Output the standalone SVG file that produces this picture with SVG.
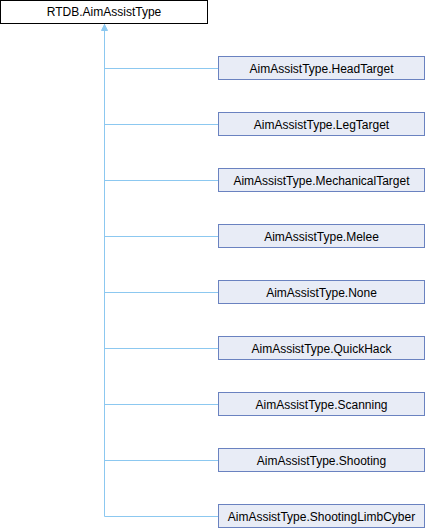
<svg xmlns="http://www.w3.org/2000/svg" width="426" height="528" viewBox="0 0 426 528">
<defs>
<marker id="arr" viewBox="0 0 8 8" refX="4" refY="0" markerWidth="8" markerHeight="8" markerUnits="userSpaceOnUse" orient="auto">
<path d="M4,0 L7,6 L1,6 Z" fill="#8cc8f0" stroke="#8cc8f0" stroke-width="1"/>
</marker>
</defs>
<style>
.box{fill:#e8ecf6;stroke:#6a82c0;stroke-width:1}
.root{fill:#ffffff;stroke:#000000;stroke-width:1}
.lbl{font-family:"Liberation Sans",Arial,sans-serif;font-size:12px;text-anchor:middle;fill:#000000}
.edge{fill:none;stroke:#8cc8f0;stroke-width:1}
</style>
<rect width="426" height="528" fill="#ffffff"/>
<g id="connectors">
<path class="edge" d="M104.5,516.5 V24"/>
<path d="M104.5,24.5 L107.5,30.5 L101.5,30.5 Z" fill="#8cc8f0" stroke="#8cc8f0" stroke-width="1"/>
<path class="edge" d="M104.5,68.5 H218.5"/>
<path class="edge" d="M104.5,124.5 H218.5"/>
<path class="edge" d="M104.5,180.5 H218.5"/>
<path class="edge" d="M104.5,236.5 H218.5"/>
<path class="edge" d="M104.5,292.5 H218.5"/>
<path class="edge" d="M104.5,348.5 H218.5"/>
<path class="edge" d="M104.5,404.5 H218.5"/>
<path class="edge" d="M104.5,460.5 H218.5"/>
<path class="edge" d="M104.5,516.5 H218.5"/>
</g>
<g id="root"><rect class="root" x="0.5" y="0.5" width="207" height="23"/><text class="lbl" x="104" y="16">RTDB.AimAssistType</text></g>
<g id="n1"><rect class="box" x="218.5" y="56.5" width="206" height="23"/><text class="lbl" x="321.5" y="72.5">AimAssistType.HeadTarget</text></g>
<g id="n2"><rect class="box" x="218.5" y="112.5" width="206" height="23"/><text class="lbl" x="321.5" y="128.5">AimAssistType.LegTarget</text></g>
<g id="n3"><rect class="box" x="218.5" y="168.5" width="206" height="23"/><text class="lbl" x="321.5" y="184.5">AimAssistType.MechanicalTarget</text></g>
<g id="n4"><rect class="box" x="218.5" y="224.5" width="206" height="23"/><text class="lbl" x="321.5" y="240.5">AimAssistType.Melee</text></g>
<g id="n5"><rect class="box" x="218.5" y="280.5" width="206" height="23"/><text class="lbl" x="321.5" y="296.5">AimAssistType.None</text></g>
<g id="n6"><rect class="box" x="218.5" y="336.5" width="206" height="23"/><text class="lbl" x="321.5" y="352.5">AimAssistType.QuickHack</text></g>
<g id="n7"><rect class="box" x="218.5" y="392.5" width="206" height="23"/><text class="lbl" x="321.5" y="408.5">AimAssistType.Scanning</text></g>
<g id="n8"><rect class="box" x="218.5" y="448.5" width="206" height="23"/><text class="lbl" x="321.5" y="464.5">AimAssistType.Shooting</text></g>
<g id="n9"><rect class="box" x="218.5" y="504.5" width="206" height="23"/><text class="lbl" x="321.5" y="520.5">AimAssistType.ShootingLimbCyber</text></g>
</svg>
